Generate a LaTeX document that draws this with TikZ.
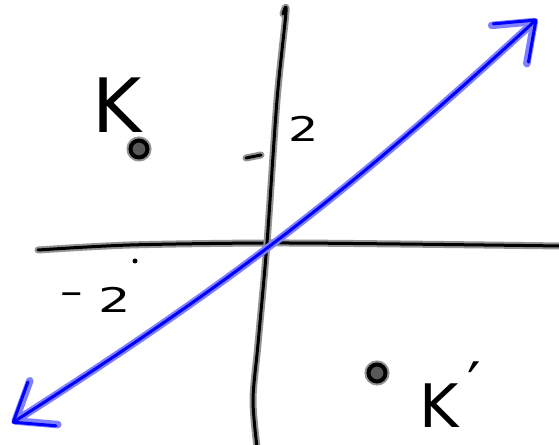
\documentclass[tikz,border=0pt]{standalone}
\usepackage{fontspec}
\setmainfont{DejaVu Sans}
\usetikzlibrary{arrows.meta, positioning}
\definecolor{cazul}{HTML}{0000FF}
\definecolor{cazulclaro}{HTML}{7F7FFF}
\definecolor{cgris}{HTML}{939393}
\tikzset{
  trazo/.style={draw=black, line width=3pt, line cap=round, line join=round,
                preaction={draw=cgris, line width=7pt, line cap=round, line join=round}},
  recta/.style={draw=cazul, line width=3pt, line cap=round, <->,
                >={Straight Barb[length=34pt, width=52pt, round]},
                preaction={draw=cazulclaro, line width=7.5pt, line cap=round, <->,
                           >={Straight Barb[length=34pt, width=52pt, round]}}},
  punto/.style={circle, draw=black, fill=cgris!60!black, line width=4pt, minimum size=17pt, inner sep=0pt,
                preaction={draw=cgris, line width=8pt}},
  marca/.style={circle, fill=black, minimum size=5pt, inner sep=0pt},
  rotulo/.style={inner sep=0pt, font=\fontsize{#1}{#1}\selectfont},
}
\begin{document}
\begin{tikzpicture}[x=1pt, y=1pt]
    \useasboundingbox (0,0) rectangle (559,444);
    \fill[white] (0,0) rectangle (559,444);
    \coordinate (o) at (267,201);
    \coordinate (xiz) at (38,194);
    \coordinate (xde) at (562,198);
    \coordinate (yarr) at (286,432);
    \coordinate (yab) at (257,-3);
    \coordinate (ytick) at (254,287);
    \coordinate (bl) at (12,21);
    \coordinate (tr) at (537,425);
    \draw[trazo] plot[smooth, tension=0.5] coordinates {(xiz) (130,199) (o) (400,200) (xde)};
    \draw[trazo] plot[smooth, tension=0.5] coordinates {(283,430) (yarr) (277,344) (o) (258,100) (253,44) (yab)};
    \draw[trazo] ([shift={(-8,-1)}]ytick) -- ([shift={(7,2)}]ytick);
    \draw[recta] (bl) to[bend right=5] (tr);
    \node[punto] (k) at (139,295) {};
    \node[punto] (kp) at (377,71) {};
    \node[marca] (xdot) at (135,183) {};
    \node[rotulo=75, above left=9pt and -10pt of k] (kl) {K};
    \node[rotulo=60, below right=-19pt and 35pt of kp] (kpl) {K\hspace{9pt}\raisebox{22pt}{′}};
    \node[rotulo=34, above right=15pt and 34pt of ytick] (dos) {\scalebox{1.4}[1]{2}};
    \node[rotulo=34, below left=24pt and 2pt of xdot] (menosdos) {\raisebox{9pt}{\scalebox{2}[1]{-}}\hspace{14pt}\scalebox{1.5}[1]{2}};
\end{tikzpicture}
\end{document}
